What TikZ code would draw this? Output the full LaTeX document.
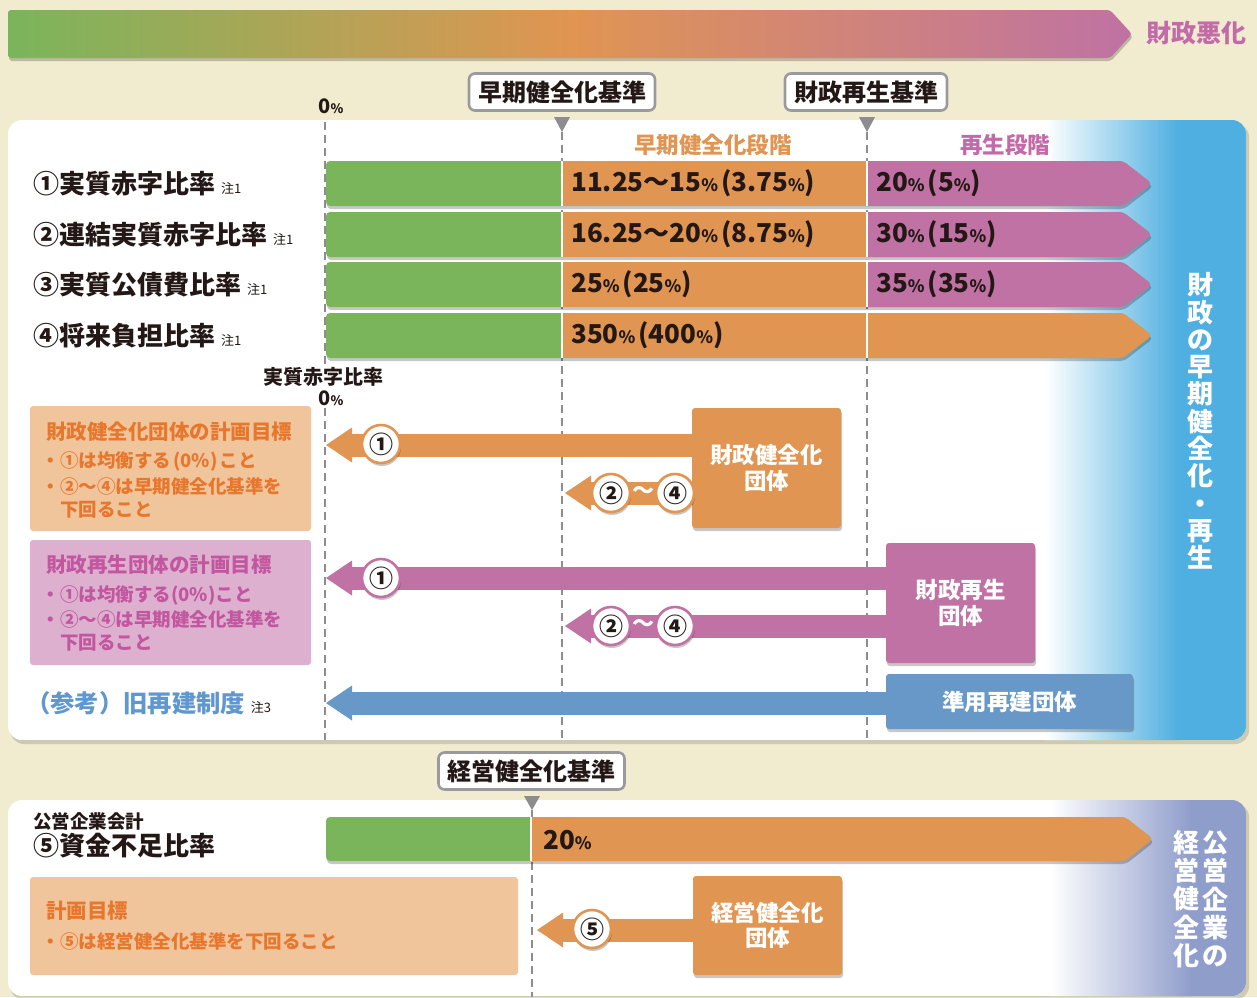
\documentclass[tikz,border=0pt]{standalone}
\usepackage{fontspec}
\setmainfont{Noto Sans CJK JP}
\usetikzlibrary{shadows,arrows.meta}
\definecolor{bg}{HTML}{F1ECD0}
\definecolor{ink}{HTML}{231815}
\definecolor{cG}{HTML}{7AB55B}
\definecolor{cO}{HTML}{E09552}
\definecolor{cP}{HTML}{BF72A3}
\definecolor{cPt}{HTML}{C36BA8}
\definecolor{cLO}{HTML}{F1C59C}
\definecolor{cLP}{HTML}{DDB0CF}
\definecolor{cOT}{HTML}{E8772E}
\definecolor{cPT}{HTML}{C2569F}
\definecolor{cBT}{HTML}{5F97CF}
\definecolor{cBA}{HTML}{6898C8}
\definecolor{cBl}{HTML}{4FAFE1}
\definecolor{cLav}{HTML}{8F9DCB}
\definecolor{cBord}{HTML}{9A9A9E}
\definecolor{cDash}{HTML}{8C8C91}
\newcommand\B[1]{\bfseries\fontsize{#1}{#1}\selectfont}
\newcommand\pc{{\fontsize{17}{17}\selectfont\%}}
\newcommand\lp{\kern3pt(}
\newcommand\rp{)}
\newcommand\note[1]{\hspace{6pt}{\mdseries\fontsize{13}{13}\selectfont #1}}
\newcommand\barrow[2]{%
  \fill[cG, sh] (600,#1) [rounded corners=4pt] -- (326,#1) -- (326,#1+45) -- (1123,#1+45) -- (1152,#1+22.5) -- (1123,#1) -- cycle;
  \fill[cO] (562,#1) rectangle (867,#1+45);
  \fill[#2] (1000,#1) [rounded corners=4pt] -- (1123,#1) -- (1152,#1+22.5) -- (1123,#1+45) -- (1000,#1+45) [sharp corners] -- (867,#1+45) -- (867,#1) -- cycle;
  \draw[white, line width=1.2pt] (562,#1) -- (562,#1+45) (867,#1) -- (867,#1+45);
}
\begin{document}
\begin{tikzpicture}[x=1pt,y=-1pt,
  every node/.style={inner sep=0pt, text=ink},
  sh/.style={drop shadow={shadow xshift=1pt,shadow yshift=-3pt,opacity=.22,fill=black}},
  vline/.style={draw=cDash, line width=2.6pt, dash pattern=on 8pt off 5pt},
  hdrbox/.style={draw=cBord, line width=2.6pt, fill=white, rounded corners=6pt, inner xsep=9pt, minimum height=37pt, font=\B{24}},
  tri/.style={fill=cDash},
  grpbox/.style={text=white, align=center, font=\bfseries\fontsize{22.5}{25.5}\selectfont, rounded corners=3pt, sh},
  num/.style={circle, fill=white, line width=2.6pt, minimum size=38pt, font=\B{24}, sh},
  arr/.style={line width=23pt, -{Triangle[length=26pt,width=35pt,line width=0pt]}},
  lbl/.style={anchor=west, font=\B{26}},
  bartxt/.style={anchor=west, font=\B{26}},
]
\fill[bg] (0,0) rectangle (1257,997);
\useasboundingbox (0,0) rectangle (1257,997);

% top gradient arrow
\shade[left color=cG, right color=cP, middle color=cO, rounded corners=3pt, sh] (8,10) -- (1110,10) -- (1132,34) -- (1110,58) -- (8,58) -- cycle;
\node[anchor=west, text=cPt, font=\B{25}] (worse) at (1146,33) {財政悪化};

% header labels
\node[font=\B{20}] (zero) at (331,106) {0{\fontsize{13}{13}\selectfont\%}};
\node[hdrbox] (hA) at (562,92) {早期健全化基準};
\node[hdrbox] (hB) at (866,92) {財政再生基準};

% main panel
\fill[black, opacity=.14, rounded corners=14pt] (10,123) rectangle (1249,744);
\begin{scope}
  \clip[rounded corners=14pt] (8,120) rectangle (1246,740);
  \fill[white] (8,120) rectangle (1246,740);
  \shade[left color=white, right color=cBl] (1045,120) rectangle (1178,740);
  \fill[cBl] (1177,120) rectangle (1246,740);
\end{scope}
\fill[tri] (554,117) -- (570,117) -- (562,132) -- cycle;
\fill[tri] (859,117) -- (875,117) -- (867,132) -- cycle;

\draw[vline] (325,122) -- (325,365);
\draw[vline] (325,408) -- (325,740);
\draw[vline] (562,132) -- (562,740);
\draw[vline] (867,132) -- (867,740);

\node[text=cO, font=\B{22.5}] (stA) at (713,145) {早期健全化段階};
\node[text=cPt, font=\B{22.5}] (stB) at (1005,145) {再生段階};

% bars
\barrow{161}{cP}
\barrow{212}{cP}
\barrow{262}{cP}
\barrow{313}{cO}

\node[lbl] (r1) at (33,183.5) {①実質赤字比率\note{注1}};
\node[lbl] (r2) at (33,234.5) {②連結実質赤字比率\note{注1}};
\node[lbl] (r3) at (33,284.5) {③実質公債費比率\note{注1}};
\node[lbl] (r4) at (33,335.5) {④将来負担比率\note{注1}};

\node[bartxt] (v1a) at (571,183.5) {11.25～15\pc\lp 3.75\pc\rp};
\node[bartxt] (v2a) at (571,234.5) {16.25～20\pc\lp 8.75\pc\rp};
\node[bartxt] (v3a) at (571,284.5) {25\pc\lp 25\pc\rp};
\node[bartxt] (v4a) at (571,335.5) {350\pc\lp 400\pc\rp};
\node[bartxt] (v1b) at (876,183.5) {20\pc\lp 5\pc\rp};
\node[bartxt] (v2b) at (876,234.5) {30\pc\lp 15\pc\rp};
\node[bartxt] (v3b) at (876,284.5) {35\pc\lp 35\pc\rp};

\node[text=white, align=center, font=\bfseries\fontsize{26}{27.3}\selectfont] (vt1) at (1200,421) {財\\政\\の\\早\\期\\健\\全\\化\\・\\再\\生};

% real deficit 0%
\node[font=\B{20}] (rd) at (323,377) {実質赤字比率};
\node[font=\B{20}] (rd0) at (331,398) {0{\fontsize{13}{13}\selectfont\%}};

% left goal boxes
\fill[cLO, rounded corners=3pt] (30,406) rectangle (311,531);
\node[anchor=west, text=cOT, font=\B{20.5}] (g1t) at (46,432) {財政健全化団体の計画目標};
\node[anchor=west, text=cOT, font=\B{18.5}] (g1a) at (60,461) {\llap{・}①は均衡する\kern2pt(0\%)\kern2pt こと};
\node[anchor=west, text=cOT, font=\B{18.5}] (g1b) at (60,486) {\llap{・}②～④は早期健全化基準を};
\node[anchor=west, text=cOT, font=\B{18.5}] (g1c) at (60,510) {下回ること};

\fill[cLP, rounded corners=3pt] (30,540) rectangle (311,665);
\node[anchor=west, text=cPT, font=\B{20.5}] (g2t) at (46,565) {財政再生団体の計画目標};
\node[anchor=west, text=cPT, font=\B{18.5}] (g2a) at (60,595) {\llap{・}①は均衡する(0\%)こと};
\node[anchor=west, text=cPT, font=\B{18.5}] (g2b) at (60,619) {\llap{・}②～④は早期健全化基準を};
\node[anchor=west, text=cPT, font=\B{18.5}] (g2c) at (60,643) {下回ること};

\node[anchor=west, text=cBT, font=\B{24.3}] (old) at (26,703) {（参考）旧再建制度{\color{ink}\note{注3}}};

% arrows
\coordinate (t1) at (326,445);
\coordinate (t2) at (565,493);
\coordinate (t3) at (326,578);
\coordinate (t4) at (565,626);
\coordinate (t5) at (326,703);
\coordinate (b1w) at (700,445);
\coordinate (b1v) at (700,493);
\coordinate (b2w) at (895,578);
\coordinate (b2v) at (895,626);
\coordinate (b3w) at (895,703);

\draw[arr, cO] (b1w) -- (t1);
\draw[arr, cO] (b1v) -- (t2);
\draw[arr, cP] (b2w) -- (t3);
\draw[arr, cP] (b2v) -- (t4);
\draw[arr, cBA] (b3w) -- (t5);

\node[grpbox, fill=cO, minimum width=149pt, minimum height=120pt] (b1) at (766.5,468) {財政健全化\\団体};
\node[grpbox, fill=cP, minimum width=149pt, minimum height=120pt] (b2) at (960.5,603) {財政再生\\団体};
\node[grpbox, fill=cBA, minimum width=247pt, minimum height=55pt] (b3) at (1009.5,701.5) {準用再建団体};

\node[num, draw=cO] (n1) at (381,444) {①};
\node[num, draw=cO] (n2) at (611,493) {②};
\node[num, draw=cO] (n4) at (675,493) {④};
\node[text=white, font=\B{22}] (tl1) at (643,493) {～};
\node[num, draw=cP] (m1) at (381,578) {①};
\node[num, draw=cP] (m2) at (611,626) {②};
\node[num, draw=cP] (m4) at (675,626) {④};
\node[text=white, font=\B{22}] (tl2) at (643,626) {～};

% bottom section
\node[hdrbox] (hC) at (531.5,771) {経営健全化基準};
\fill[black, opacity=.14, rounded corners=14pt] (10,803) rectangle (1249,1000);
\begin{scope}
  \clip[rounded corners=14pt] (8,800) rectangle (1246,996);
  \fill[white] (8,800) rectangle (1246,996);
  \shade[left color=white, right color=cLav] (1050,800) rectangle (1192,996);
  \fill[cLav] (1191,800) rectangle (1246,996);
\end{scope}
\fill[tri] (524,796) -- (540,796) -- (532,810) -- cycle;
\draw[vline] (532,810) -- (532,997);

\fill[cG, sh] (700,817) [rounded corners=4pt] -- (326,817) -- (326,861) -- (1125,861) -- (1153,839) -- (1125,817) -- cycle;
\fill[cO] (700,817) [rounded corners=4pt] -- (1125,817) -- (1153,839) -- (1125,861) -- (700,861) [sharp corners] -- (531,861) -- (531,817) -- cycle;
\draw[white, line width=1.2pt] (531,817) -- (531,861);
\node[bartxt] (v5) at (543,840) {20\pc};

\node[anchor=west, font=\B{18.5}] (pe) at (33,821) {公営企業会計};
\node[lbl] (r5) at (33,846) {⑤資金不足比率};

\fill[cLO, rounded corners=3pt] (30,877) rectangle (518,975);
\node[anchor=west, text=cOT, font=\B{20.5}] (g3t) at (46,911) {計画目標};
\node[anchor=west, text=cOT, font=\B{18.5}] (g3a) at (60,941) {\llap{・}⑤は経営健全化基準を下回ること};

\coordinate (t6) at (537,930);
\coordinate (b4w) at (700,930);
\draw[arr, cO] (b4w) -- (t6);
\node[grpbox, fill=cO, minimum width=149pt, minimum height=99pt] (b4) at (767.5,925.5) {経営健全化\\団体};
\node[num, draw=cO] (n5) at (592,929) {⑤};

\node[text=white, align=center, font=\bfseries\fontsize{26}{28.4}\selectfont] (vt2) at (1215,899) {公\\営\\企\\業\\の};
\node[text=white, align=center, font=\bfseries\fontsize{26}{28.4}\selectfont] (vt3) at (1186,899) {経\\営\\健\\全\\化};
\end{tikzpicture}
\end{document}
